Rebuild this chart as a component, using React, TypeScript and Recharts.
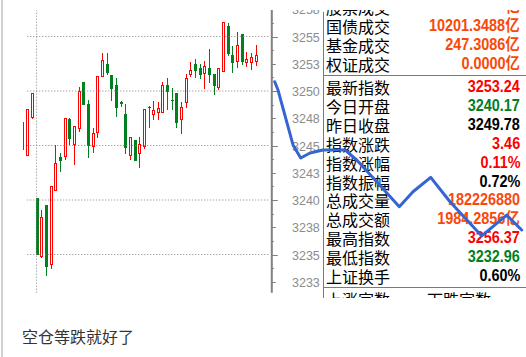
import React from "react";
import {
  ComposedChart,
  LineChart,
  Bar,
  Line,
  XAxis,
  YAxis,
  ReferenceLine,
} from "recharts";

// ─── Data ─────────────────────────────────────────────────────────────────────

const opens = [
  3247.1, 3244.04, 3247.52, 3240.18, 3234.77, 3239.54, 3234.04, 3240.83, 3243.94, 3243.94,
  3247.43, 3245.05, 3246.51, 3250.83, 3248.81, 3244.86, 3246.15, 3251.28, 3252.48, 3251.47,
  3250.55, 3248.95, 3247.89, 3244.04, 3245.5, 3244.22, 3244.86, 3248.5, 3247.8, 3247.98,
  3247.98, 3250.55, 3249.2, 3249.82, 3247.34, 3248.9, 3251.47, 3252.48, 3252.11, 3251.56,
  3252.11, 3251.56, 3250.28, 3251.74, 3255.96, 3253.3, 3252.66, 3255.23, 3252.57, 3252.57,
  3252.66,
];
const highs = [
  3247.16, 3248.35, 3249.82, 3240.18, 3239.08, 3239.54, 3241.28, 3245.05, 3244.31, 3247.52,
  3247.52, 3246.79, 3250.37, 3250.83, 3249.17, 3246.61, 3251.38, 3253.49, 3253.49, 3251.47,
  3251.19, 3249.1, 3248.81, 3245.78, 3245.5, 3245.78, 3248.35, 3248.62, 3249.08, 3248.99,
  3250.83, 3251.19, 3250.28, 3249.82, 3248.99, 3251.56, 3252.66, 3252.94, 3252.48, 3252.75,
  3253.85, 3251.56, 3252.11, 3256.37, 3256.24, 3254.13, 3255.41, 3255.23, 3253.58, 3253.49,
  3254.22,
];
const lows = [
  3244.59, 3244.04, 3247.43, 3234.95, 3234.68, 3233.03, 3233.67, 3240.83, 3242.57, 3243.67,
  3245.05, 3243.21, 3246.24, 3248.72, 3243.85, 3244.31, 3245.69, 3251.28, 3251.47, 3249.08,
  3247.61, 3248.5, 3244.22, 3243.67, 3243.58, 3242.94, 3244.68, 3246.61, 3247.34, 3247.34,
  3247.98, 3248.26, 3248.26, 3246.61, 3246.06, 3248.44, 3251.28, 3251.19, 3251.1, 3250.18,
  3250.73, 3249.63, 3250.09, 3251.74, 3253.21, 3251.65, 3252.11, 3252.39, 3252.2, 3251.93,
  3252.29,
];
const closes = [
  3244.7, 3248.35, 3249.82, 3234.95, 3238.44, 3233.85, 3241.28, 3243.39, 3243.58, 3247.52,
  3245.6, 3246.79, 3250.0, 3248.72, 3244.95, 3246.15, 3251.38, 3252.84, 3251.65, 3250.18,
  3248.44, 3248.85, 3244.77, 3245.78, 3243.58, 3245.14, 3248.35, 3248.4, 3248.26, 3248.44,
  3250.55, 3249.91, 3249.1, 3247.06, 3248.53, 3251.19, 3251.93, 3251.83, 3251.47, 3252.29,
  3251.47, 3250.46, 3252.11, 3256.3, 3253.39, 3252.57, 3254.22, 3252.66, 3252.94, 3253.12,
  3253.3,
];
const SLOTS = 54; // visible candle slots in the window

// price axis ticks (labels on every 2.5)
const priceTicks = [
  3232.5, 3233.75, 3235, 3236.25, 3237.5, 3238.75, 3240, 3241.25, 3242.5, 3243.75, 3245,
  3246.25, 3247.5, 3248.75, 3250, 3251.25, 3252.5, 3253.75, 3255, 3256.25, 3257.5,
];
const gridPrices = [3255, 3250, 3245, 3240, 3235];

// hand-drawn blue annotation: x in candle slots, y in index points
const annotSlot = [
  54.13, 54.84, 58.06, 59.71, 61.71, 64.5, 69.22, 71.73, 76.03, 80.88, 83.82, 87.62, 91.77,
  98.58, 103.94, 107.16,
];
const annotPrice = [
  3250.85, 3250.09, 3245.05, 3243.85, 3244.31, 3244.59, 3244.59, 3243.67, 3241.68, 3239.39,
  3240.76, 3242.08, 3239.84, 3236.7, 3238.62, 3237.25,
];

// quote panel
const topLabels = ["股票成交", "国债成交", "基金成交", "权证成交"];
const topValues = ["亿", "10201.3488亿", "247.3086亿", "0.0000亿"];
const quoteLabels = [
  "最新指数", "今日开盘", "昨日收盘", "指数涨跌", "指数涨幅", "指数振幅",
  "总成交量", "总成交额", "最高指数", "最低指数", "上证换手",
];
const quoteValues = [
  "3253.24", "3240.17", "3249.78", "3.46", "0.11%", "0.72%",
  "182226880", "1984.2856亿", "3256.37", "3232.96", "0.60%",
];
const quoteTone = [
  "up", "down", "flat", "up", "up", "flat", "vol", "vol", "up", "down", "flat",
];
const footLabels = ["上涨家数", "下跌家数"];
const caption = "空仓等跌就好了";

// ─── Styles ───────────────────────────────────────────────────────────────────

const RED = "#ff0000";
const GREEN = "#00801e";
const ORANGE = "#f8480a";
const BLUE = "#3565d2";
const GRID = "#808080";
const TONE: Record<string, string> = { up: RED, down: GREEN, flat: "#000", vol: ORANGE };

const W = 526;
const H = 357;
const PLOT_LEFT = 20.3;
const AXIS_X = 271.8;
const MARGIN_BOTTOM = 64.35;
const DOMAIN: [number, number] = [3231.5, 3258.35];
const CLIP_X = 23;
const CJK = '"Noto Sans CJK SC", "Noto Sans", sans-serif';

const candles = Array.from({ length: SLOTS }, (_, i) => ({
  t: String(i),
  o: opens[i] ?? null,
  h: highs[i] ?? null,
  l: lows[i] ?? null,
  c: closes[i] ?? null,
}));
const annot = annotSlot.map((s, i) => ({ s, v: annotPrice[i] }));

// ─── Shapes ───────────────────────────────────────────────────────────────────

function Candle(props: any) {
  const { x, y, width, height, payload } = props;
  if (!payload || payload.h == null || !height) return null;
  const { o, h, l, c } = payload;
  const cx = Math.round(x + width / 2);
  const k = height / (h - l);
  const py = (v: number) => Math.round(y + (h - v) * k);
  const yH = py(h);
  const yL = py(l);
  const yT = py(Math.max(o, c));
  const yB = py(Math.min(o, c));
  const up = c > o;
  const col = up ? RED : GREEN;
  const wx = cx + 0.5;

  // first candle is cut by the left edge of the window
  if (cx - 1 < CLIP_X) {
    return <line x1={wx} x2={wx} y1={yH} y2={yL} stroke={col} strokeWidth={1} />;
  }
  if (up) {
    return (
      <g>
        {yT > yH && <line x1={wx} x2={wx} y1={yH} y2={yT} stroke={col} strokeWidth={1} />}
        {yL > yB && <line x1={wx} x2={wx} y1={yB} y2={yL} stroke={col} strokeWidth={1} />}
        <rect
          x={cx - 0.5}
          y={yT + 0.5}
          width={2}
          height={Math.max(yB - yT - 1, 1)}
          fill="#fff"
          stroke={col}
          strokeWidth={1}
        />
      </g>
    );
  }
  return (
    <g>
      <line x1={wx} x2={wx} y1={yH} y2={yL} stroke={col} strokeWidth={1} />
      <rect x={cx - 1} y={yT} width={3} height={Math.max(yB - yT, 1)} fill={col} />
    </g>
  );
}

function PriceTick(props: any) {
  const { y, payload } = props;
  const v: number = payload.value;
  const yy = Math.round(y) + 0.5;
  const len = v % 5 === 0 ? 6 : v % 2.5 === 0 ? 4 : 2;
  return (
    <g>
      <line x1={AXIS_X} x2={AXIS_X + len} y1={yy} y2={yy} stroke={GRID} strokeWidth={1} />
      {v % 2.5 === 0 && (
        <text
          x={AXIS_X + 48}
          y={yy}
          dy={4.5}
          textAnchor="end"
          fill="#8c8c8c"
          fontSize={12.5}
          fontFamily='"Liberation Sans", Arial, sans-serif'
        >
          {Math.round(v)}
        </text>
      )}
    </g>
  );
}

// ─── Panel ────────────────────────────────────────────────────────────────────

function Row({ label, value, color, cy }: { label: string; value: string; color: string; cy: number }) {
  return (
    <div
      style={{
        position: "absolute",
        left: 326,
        width: 194,
        top: cy - 10 - 9,
        height: 18,
        lineHeight: "18px",
        fontFamily: CJK,
        fontSize: 16,
        color: "#000",
        whiteSpace: "nowrap",
      }}
    >
      <span>{label}</span>
      <span
        style={{
          position: "absolute",
          right: 0,
          top: 0,
          display: "inline-block",
          transform: "scaleX(0.9)",
          transformOrigin: "right center",
          fontFamily: '"Liberation Sans", Arial, "Noto Sans CJK SC", sans-serif',
          fontWeight: 700,
          fontSize: 16,
          color,
        }}
      >
        {value}
      </span>
    </div>
  );
}

// ─── Component ────────────────────────────────────────────────────────────────

export default function App() {
  const topY = [7, 26, 45, 64];
  return (
    <div
      style={{
        position: "fixed",
        left: 0,
        top: 0,
        width: W,
        height: H,
        background: "#fff",
        overflow: "hidden",
      }}
    >
      <div style={{ position: "absolute", left: 1, top: 0, width: 2, height: H, background: "#d2d2d2" }} />

      {/* screenshot area */}
      <div style={{ position: "absolute", left: 0, top: 10, width: W, height: 288, overflow: "hidden" }}>
        <div style={{ position: "absolute", left: 0, top: -10 }}>
          <ComposedChart
            width={W}
            height={H}
            data={candles}
            margin={{ top: 0, right: W - AXIS_X - 50, bottom: MARGIN_BOTTOM, left: PLOT_LEFT }}
          >
            <XAxis dataKey="t" type="category" hide />
            <YAxis
              orientation="right"
              width={50}
              domain={DOMAIN}
              ticks={priceTicks}
              interval={0}
              axisLine={{ stroke: GRID, strokeWidth: 2 }}
              tickLine={false}
              tick={<PriceTick />}
            />
            {gridPrices.map((p) => (
              <ReferenceLine
                key={p}
                segment={[{ x: "1", y: p }, { x: "53", y: p }]}
                stroke={GRID}
                strokeDasharray="1 2"
              />
            ))}
            <ReferenceLine x="3" stroke={GRID} strokeDasharray="1 2" />
            <Bar
              dataKey={(d: any) => (d.h == null ? null : [d.l, d.h])}
              shape={<Candle />}
              isAnimationActive={false}
            />
          </ComposedChart>
        </div>

        {/* quote panel */}
        <div style={{ position: "absolute", left: 323, top: 2, width: 1, height: 300, background: "#7a7a7a" }} />
        <div style={{ position: "absolute", left: 323, top: 65, width: 203, height: 1, background: "#7a7a7a" }} />
        <div style={{ position: "absolute", left: 323, top: 277, width: 203, height: 1, background: "#7a7a7a" }} />
        {topLabels.map((lb, i) => (
          <Row key={lb} label={lb} value={topValues[i]} color={ORANGE} cy={topY[i]} />
        ))}
        {quoteLabels.map((lb, i) => (
          <Row key={lb} label={lb} value={quoteValues[i]} color={TONE[quoteTone[i]]} cy={87 + i * 18.9} />
        ))}
        {footLabels.map((lb, i) => (
          <div
            key={lb}
            style={{
              position: "absolute",
              left: 326 + i * 101,
              top: 299 - 10 - 9,
              lineHeight: "18px",
              fontFamily: CJK,
              fontSize: 16,
              color: "#000",
            }}
          >
            {lb}
          </div>
        ))}
      </div>

      {/* blue annotation */}
      <div style={{ position: "absolute", left: 0, top: 0, pointerEvents: "none" }}>
        <LineChart
          width={W}
          height={H}
          data={annot}
          margin={{ top: 0, right: 0.4, bottom: MARGIN_BOTTOM, left: PLOT_LEFT }}
        >
          <XAxis dataKey="s" type="number" domain={[-0.5, 108]} hide />
          <YAxis domain={DOMAIN} hide />
          <Line
            type="linear"
            dataKey="v"
            stroke={BLUE}
            strokeWidth={3}
            strokeLinejoin="round"
            strokeLinecap="round"
            dot={false}
            isAnimationActive={false}
          />
        </LineChart>
      </div>

      <div
        style={{
          position: "absolute",
          left: 22,
          top: 327,
          lineHeight: "18px",
          fontFamily: CJK,
          fontSize: 16,
          color: "#333",
        }}
      >
        {caption}
      </div>
    </div>
  );
}
